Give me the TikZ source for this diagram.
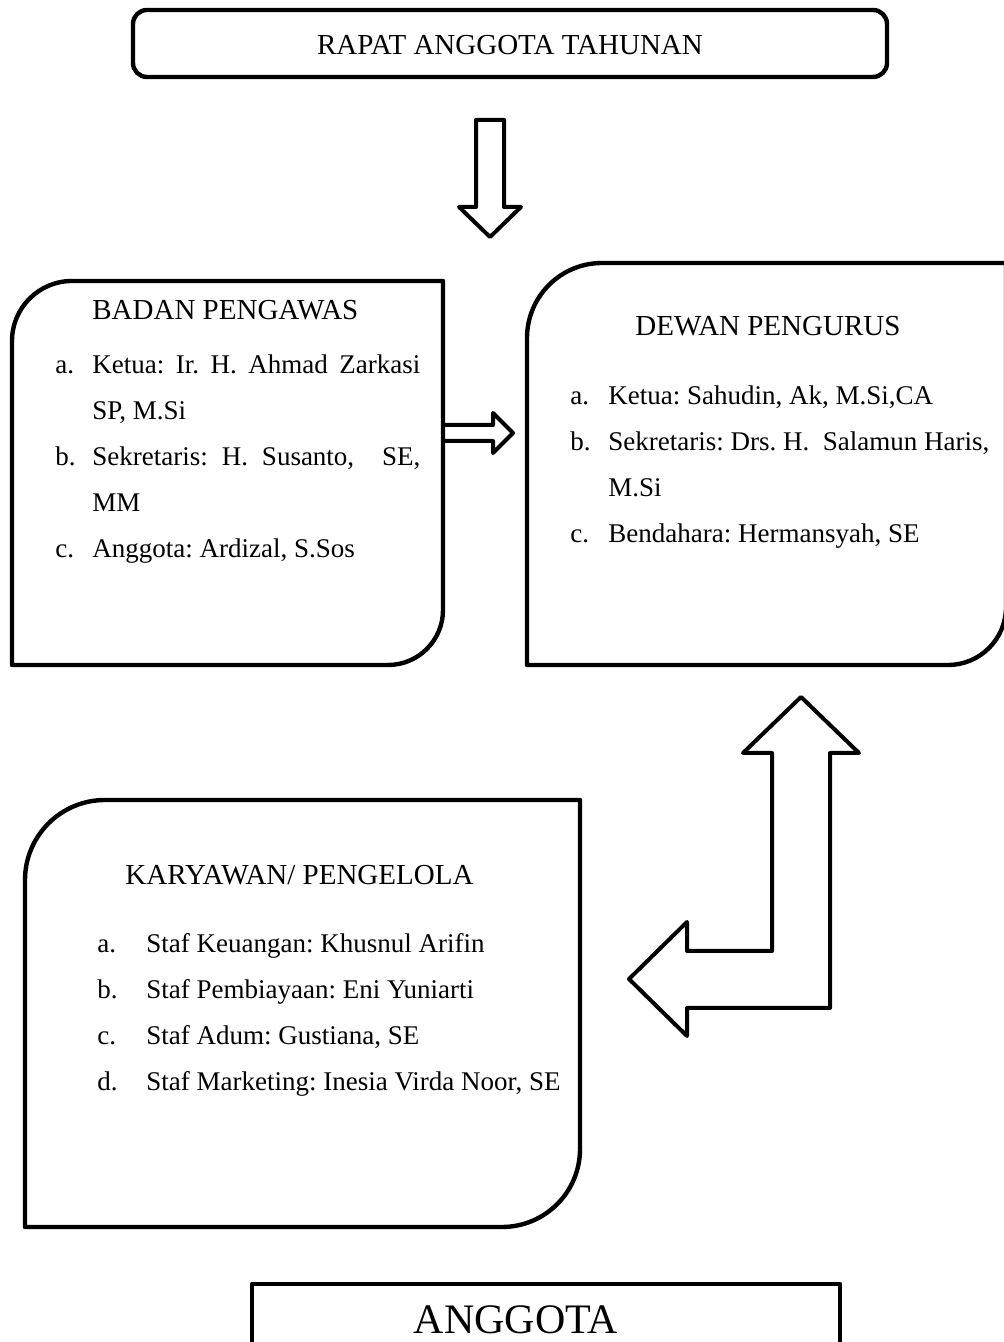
\documentclass[tikz,border=0pt]{standalone}
\usepackage{fontspec}
\setmainfont{Liberation Serif}
\usetikzlibrary{positioning}

\begin{document}
\frenchspacing
\begin{tikzpicture}[x=0.5pt,y=0.5pt,
    garis/.style={line width=2.2pt, line join=round},
    panah/.style={line width=2pt, line join=round},
    judul/.style={font=\fontsize{14.5}{17}\selectfont, inner sep=0pt, anchor=base west},
    isi/.style={font=\fontsize{13.5}{16}\selectfont, inner sep=0pt, anchor=base west}]

    \useasboundingbox (0,0) rectangle (1004,1342);

    % Rapat anggota tahunan
    \draw[garis, rounded corners=7pt] (133,1265) rectangle (887,1332);
    \node[judul, anchor=base] (rat) at (510,1287.5) {RAPAT ANGGOTA TAHUNAN};

    % panah ke bawah
    \draw[panah] (476,1222) -- (504,1222) -- (504,1135) -- (521,1135) -- (490,1105)
        -- (459,1135) -- (476,1135) -- cycle;

    % Badan pengawas
    \draw[garis] (12,677) -- (12,1001) arc[start angle=180, end angle=90, radius=60]
        -- (443,1061) -- (443,732) arc[start angle=0, end angle=-90, radius=55] -- cycle;
    \node[judul] (bp) at (92,1022) {BADAN PENGAWAS};
    \node[isi] (bpa) at (55,968) {a.};
    \node[isi] (bpa1) at (92,968) {\makebox[164pt][s]{Ketua: Ir. H. Ahmad Zarkasi}};
    \node[isi] (bpa2) at (92,922) {SP, M.Si};
    \node[isi] (bpb) at (55,876) {b.};
    \node[isi] (bpb1) at (92,876) {\makebox[164pt][s]{Sekretaris: H. Susanto,\ \ SE,}};
    \node[isi] (bpb2) at (92,830) {MM};
    \node[isi] (bpc) at (55,784) {c.};
    \node[isi] (bpc1) at (92,784) {Anggota: Ardizal, S.Sos};

    % panah ke kanan
    \draw[panah] (443,917) -- (493,917) -- (493,929) -- (513,909) -- (493,889)
        -- (493,901) -- (443,901);

    % Dewan pengurus
    \draw[garis] (527,677) -- (527,1004) arc[start angle=180, end angle=90, radius=75]
        -- (1006,1079) -- (1006,735) arc[start angle=0, end angle=-90, radius=58] -- cycle;
    \node[judul] (dp) at (635,1006) {DEWAN PENGURUS};
    \node[isi] (dpa) at (570,937) {a.};
    \node[isi] (dpa1) at (608,937) {Ketua: Sahudin, Ak, M.Si,CA};
    \node[isi] (dpb) at (570,891) {b.};
    \node[isi] (dpb1) at (608,891) {Sekretaris: Drs. H.\ \ Salamun Haris,};
    \node[isi] (dpb2) at (608,845) {M.Si};
    \node[isi] (dpc) at (570,799) {c.};
    \node[isi] (dpc1) at (608,799) {Bendahara: Hermansyah, SE};

    % panah dua arah (siku)
    \draw[panah] (801,645) -- (859,589) -- (830,589) -- (830,334) -- (687,334)
        -- (687,306) -- (629,363) -- (687,420) -- (687,391) -- (772,391)
        -- (772,589) -- (743,589) -- cycle;

    % Karyawan / pengelola
    \draw[garis] (25,115) -- (25,462) arc[start angle=180, end angle=90, radius=80]
        -- (580,542) -- (580,193) arc[start angle=0, end angle=-90, radius=78] -- cycle;
    \node[judul] (kp) at (125,457) {KARYAWAN/ PENGELOLA};
    \node[isi] (kpa) at (97,389) {a.};
    \node[isi] (kpa1) at (146,389) {Staf Keuangan: Khusnul Arifin};
    \node[isi] (kpb) at (97,343) {b.};
    \node[isi] (kpb1) at (146,343) {Staf Pembiayaan: Eni Yuniarti};
    \node[isi] (kpc) at (97,297) {c.};
    \node[isi] (kpc1) at (146,297) {Staf Adum: Gustiana, SE};
    \node[isi] (kpd) at (97,251) {d.};
    \node[isi] (kpd1) at (146,251) {Staf Marketing: Inesia Virda Noor, SE};

    % Anggota
    \draw[garis] (252,-20) -- (252,58) -- (840,58) -- (840,-20);
    \node[judul, anchor=base, font=\fontsize{21}{25}\selectfont] (agt) at (516,9) {ANGGOTA};
\end{tikzpicture}
\end{document}
